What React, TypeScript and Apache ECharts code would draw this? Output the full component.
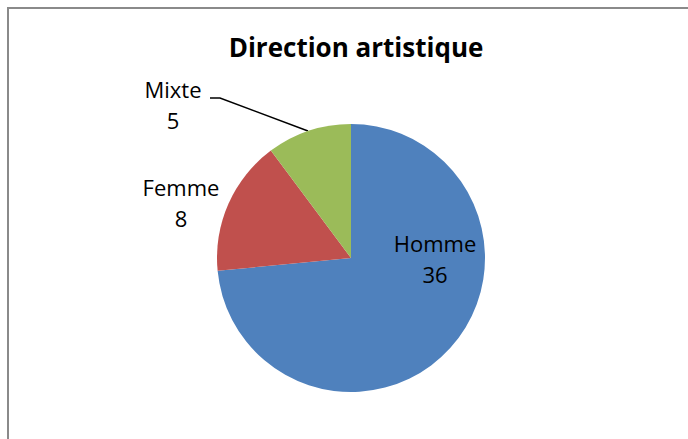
import React, { useEffect, useRef } from "react";
import * as echarts from "echarts";

const categories = ["Homme", "Femme", "Mixte"];
const values = [36, 8, 5];
const colors = ["#4F81BD", "#C0504D", "#9BBB59"];
const titleText = "Direction artistique";

export default function App() {
  const ref = useRef<HTMLDivElement>(null);
  useEffect(() => {
    if (!ref.current) return;
    const chart = echarts.init(ref.current, null, { renderer: "svg" });
    const labelPos: Record<number, { x: number; y: number }> = {
      0: { x: 435, y: 258 },
      1: { x: 181, y: 202 },
      2: { x: 173, y: 104 },
    };
    chart.setOption({
      animation: false,
      backgroundColor: "#ffffff",
      title: {
        text: titleText,
        left: 351,
        top: 29,
        textAlign: "center",
        textStyle: {
          fontFamily: "Open Sans",
          fontWeight: "bold",
          fontSize: 26,
          color: "#000000",
        },
      },
      graphic: [
        {
          type: "rect",
          shape: { x: 8, y: 8, width: 720, height: 480 },
          style: { fill: "none", stroke: "#8a8a8a", lineWidth: 2 },
          silent: true,
        },
      ],
      series: [
        {
          type: "pie",
          center: [351, 258],
          radius: 134,
          startAngle: 90,
          clockwise: true,
          data: categories.map((name, i) => ({
            name,
            value: values[i],
            itemStyle: { color: colors[i] },
            labelLine: { show: i === 2 },
          })),
          label: {
            show: true,
            formatter: "{b}\n{c}",
            fontFamily: "Open Sans",
            fontSize: 22,
            lineHeight: 31,
            color: "#000000",
            align: "center",
          },
          labelLine: {
            show: true,
            length: 10,
            length2: 10,
            lineStyle: { color: "#000000", width: 1.5 },
          },
          labelLayout: (params: any) => {
            const p = labelPos[params.dataIndex];
            const out: any = {
              x: p.x,
              y: p.y,
              align: "center",
              verticalAlign: "middle",
            };
            if (params.dataIndex === 2) {
              out.labelLinePoints = [
                [308, 131],
                [220, 98],
                [210, 98],
              ];
            }
            return out;
          },
        },
      ],
    });
    return () => chart.dispose();
  }, []);
  return (
    <div
      ref={ref}
      style={{ position: "fixed", left: 0, top: 0, width: 688, height: 439 }}
    />
  );
}
